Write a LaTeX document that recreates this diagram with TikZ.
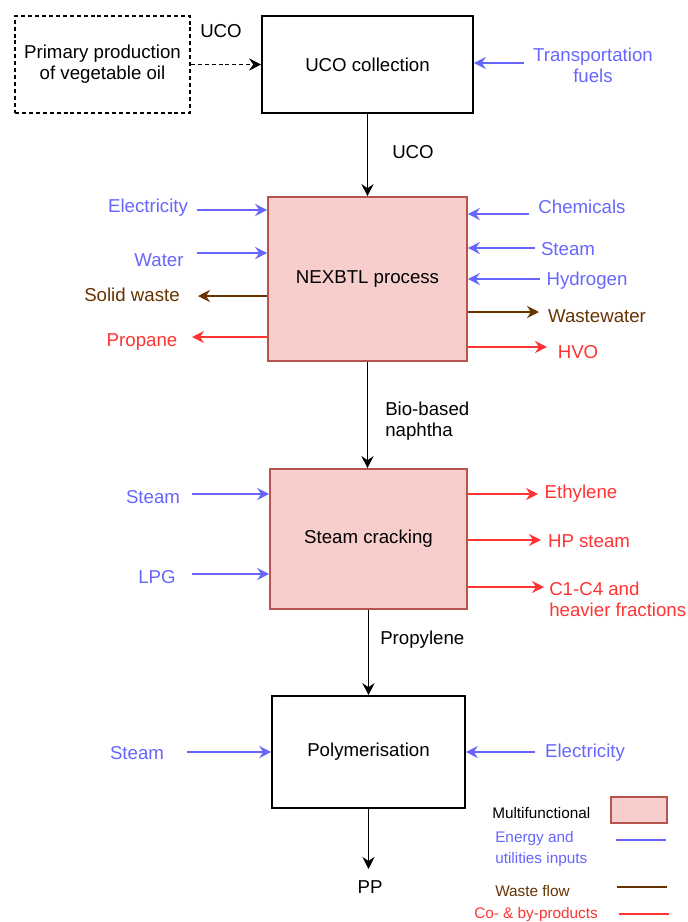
\documentclass[tikz,border=0pt]{standalone}
\usepackage{fontspec}
\setmainfont{Liberation Sans}
\usepackage{xcolor}
\usetikzlibrary{arrows.meta}
\usetikzlibrary{positioning}

\definecolor{inblue}{HTML}{6666FF}
\definecolor{outred}{HTML}{FF3333}
\definecolor{wastebrown}{HTML}{663300}
\definecolor{multifill}{HTML}{F8CECC}
\definecolor{multidraw}{HTML}{B85450}
\newcommand{\pxu}{0.75pt}

\begin{document}
\begin{tikzpicture}[x=0.75pt, y=-0.75pt]
\tikzset{BoxStyle/.style = {shape=rectangle, draw, line width=1.2pt, inner sep=0pt, align=center, font=\fontsize{14}{16}\selectfont}}
\tikzset{MultiStyle/.style = {BoxStyle, draw=multidraw, fill=multifill}}
\tikzset{TextStyle/.style = {inner sep=0pt, align=center, font=\fontsize{14}{16}\selectfont}}
\tikzset{LegendStyle/.style = {inner sep=0pt, align=left, anchor=west, font=\fontsize{11.5}{16}\selectfont}}
\tikzset{FlowStyle/.style = {-{Stealth[length=9pt, width=9pt, inset=3pt]}, line width=1.3pt}}
\tikzset{InStyle/.style = {FlowStyle, line width=1.2pt, draw=inblue}}
\tikzset{WasteStyle/.style = {FlowStyle, line width=1.2pt, draw=wastebrown}}
\tikzset{ProdStyle/.style = {FlowStyle, line width=1.2pt, draw=outred}}
  \useasboundingbox (0,0) rectangle (688,922);

  % process chain
  \node[BoxStyle, dash pattern=on 3pt off 2.2pt, minimum width=175*\pxu, minimum height=97*\pxu] (prim) at (102.5,64.5) {Primary production\\of vegetable oil};
  \node[BoxStyle, minimum width=211*\pxu, minimum height=97*\pxu] (uco) at (367.5,64.5) {UCO collection};
  \node[MultiStyle, minimum width=199*\pxu, minimum height=164*\pxu] (nex) at (367.5,279) {NEXBTL process};
  \node[MultiStyle, minimum width=197*\pxu, minimum height=140*\pxu] (crack) at (368.5,539) {Steam cracking};
  \node[BoxStyle, minimum width=193*\pxu, minimum height=112*\pxu] (poly) at (368.5,752) {Polymerisation};
  \coordinate (ppA) at (368,869);
  \node[TextStyle] (pp) at (370,887) {PP};

  \draw[FlowStyle, dash pattern=on 3pt off 2.2pt] (prim) -- (uco);
  \node[TextStyle] (ucoT) at (221,31) {UCO};
  \draw[FlowStyle] (uco.south) -- (uco.south |- nex.north);
  \node[TextStyle] (ucoB) at (413,152) {UCO};
  \draw[FlowStyle] (nex.south) -- (nex.south |- crack.north);
  \node[TextStyle, align=left, anchor=west] (naph) at (385,421) {Bio-based\\naphtha};
  \draw[FlowStyle] (crack.south) -- (crack.south |- poly.north);
  \node[TextStyle, anchor=west] (propy) at (380,640) {Propylene};
  \draw[FlowStyle] (poly.south) -- (poly.south |- ppA);

  % UCO collection
  \node[TextStyle, text=inblue] (trans) at (593,65) {Transportation\\fuels};
  \coordinate (transA) at (524,63);
  \draw[InStyle] (transA) -- (transA -| uco.east);

  % NEXBTL left
  \node[TextStyle, text=inblue] (elecL) at (148,208) {Electricity};
  \node[TextStyle, text=inblue] (waterL) at (159,260) {Water};
  \node[TextStyle, text=wastebrown] (solidL) at (132,295) {Solid waste};
  \node[TextStyle, text=outred] (propL) at (142,342) {Propane};
  \coordinate (elecA) at (197,210);
  \coordinate (waterA) at (197,253);
  \coordinate (solidA) at (198,296);
  \coordinate (propA) at (192,337);
  \draw[InStyle] (elecA) -- (elecA -| nex.west);
  \draw[InStyle] (waterA) -- (waterA -| nex.west);
  \draw[WasteStyle] (solidA -| nex.west) -- (solidA);
  \draw[ProdStyle] (propA -| nex.west) -- (propA);

  % NEXBTL right
  \node[TextStyle, text=inblue] (chemR) at (582,207) {Chemicals};
  \node[TextStyle, text=inblue] (steamR) at (568,249) {Steam};
  \node[TextStyle, text=inblue] (hydR) at (587,281) {Hydrogen};
  \node[TextStyle, text=wastebrown] (wwR) at (597,316) {Wastewater};
  \node[TextStyle, text=outred] (hvoR) at (578,352) {HVO};
  \coordinate (chemA) at (529,214);
  \coordinate (steamA) at (535,248);
  \coordinate (hydA) at (540,279);
  \coordinate (wwA) at (539,312);
  \coordinate (hvoA) at (547,347);
  \draw[InStyle] (chemA) -- (chemA -| nex.east);
  \draw[InStyle] (steamA) -- (steamA -| nex.east);
  \draw[InStyle] (hydA) -- (hydA -| nex.east);
  \draw[WasteStyle] (wwA -| nex.east) -- (wwA);
  \draw[ProdStyle] (hvoA -| nex.east) -- (hvoA);

  % steam cracking
  \node[TextStyle, text=inblue] (steamC) at (153,497) {Steam};
  \node[TextStyle, text=inblue] (lpgC) at (157,577) {LPG};
  \coordinate (steamCA) at (192,494);
  \coordinate (lpgCA) at (192,574);
  \draw[InStyle] (steamCA) -- (steamCA -| crack.west);
  \draw[InStyle] (lpgCA) -- (lpgCA -| crack.west);
  \node[TextStyle, text=outred] (ethC) at (581,494) {Ethylene};
  \node[TextStyle, text=outred] (hpC) at (589,541) {HP steam};
  \node[TextStyle, text=outred, align=left, anchor=west] (fracC) at (549,599) {C1-C4 and\\heavier fractions};
  \coordinate (ethA) at (538,494);
  \coordinate (hpA) at (541,540);
  \coordinate (fracA) at (544,587);
  \draw[ProdStyle] (ethA -| crack.east) -- (ethA);
  \draw[ProdStyle] (hpA -| crack.east) -- (hpA);
  \draw[ProdStyle] (fracA -| crack.east) -- (fracA);

  % polymerisation
  \node[TextStyle, text=inblue] (steamP) at (137,753) {Steam};
  \node[TextStyle, text=inblue] (elecP) at (585,753) {Electricity};
  \coordinate (steamPA) at (187,752);
  \coordinate (elecPA) at (535,752);
  \draw[InStyle] (steamPA) -- (steamPA -| poly.west);
  \draw[InStyle] (elecPA) -- (elecPA -| poly.east);

  % legend
  \node[LegendStyle] (legM) at (492,813) {Multifunctional};
  \node[MultiStyle, minimum width=56*\pxu, minimum height=26*\pxu] (legMbox) at (639,810) {};
  \node[LegendStyle, text=inblue] (legE) at (495,849) {Energy and\\utilities inputs};
  \coordinate (legE1) at (616,840);
  \coordinate (legE2) at (666,840);
  \draw[inblue, line width=1pt] (legE1) -- (legE2);
  \node[LegendStyle, text=wastebrown] (legW) at (495,891) {Waste flow};
  \coordinate (legW1) at (617,887);
  \coordinate (legW2) at (667,887);
  \draw[wastebrown, line width=1pt] (legW1) -- (legW2);
  \node[LegendStyle, text=outred] (legP) at (474,915) {Co- \& by-products};
  \coordinate (legP1) at (619,914);
  \coordinate (legP2) at (669,914);
  \draw[outred, line width=1pt] (legP1) -- (legP2);
\end{tikzpicture}
\end{document}
